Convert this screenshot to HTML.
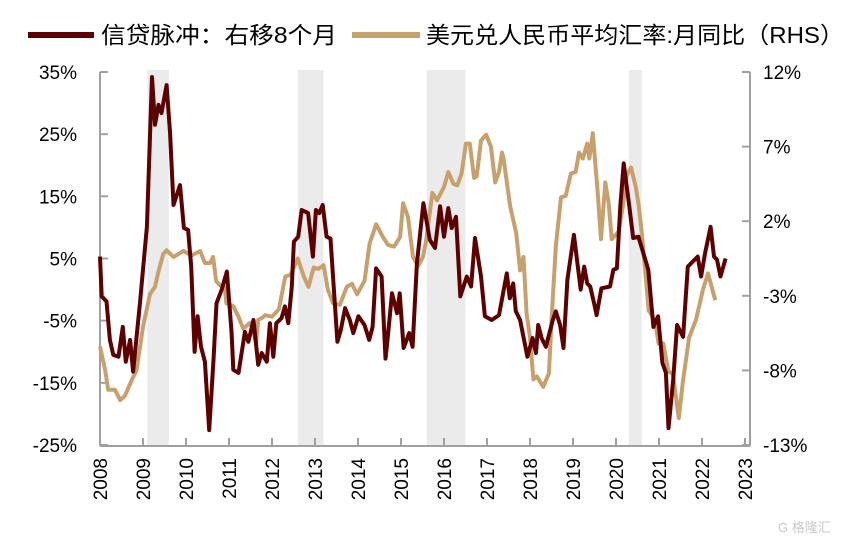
<!DOCTYPE html>
<html><head><meta charset="utf-8">
<style>
html,body{margin:0;padding:0;background:#fff;}
body{width:855px;height:543px;overflow:hidden;font-family:"Liberation Sans","Noto Sans CJK SC",sans-serif;}
svg text{font-family:"Liberation Sans","Noto Sans CJK SC",sans-serif;}
</style></head>
<body>
<svg id="chart" width="855" height="543" viewBox="0 0 855 543" xmlns="http://www.w3.org/2000/svg">
<g id="legend">
  <line x1="28" y1="35" x2="94" y2="35" stroke="#5C0000" stroke-width="6"/>
  <text x="101" y="43" font-size="23" textLength="236" lengthAdjust="spacingAndGlyphs" fill="#000">信贷脉冲：右移8个月</text>
  <line x1="352" y1="35" x2="420" y2="35" stroke="#C8A06E" stroke-width="6"/>
  <text x="426" y="43" font-size="23" textLength="418" lengthAdjust="spacingAndGlyphs" fill="#000">美元兑人民币平均汇率:月同比（RHS）</text>
</g>
<g id="bands"></g>
<g id="axes"></g>
<g id="series"></g>
<text x="778" y="532" font-size="13" fill="#c8c8c8">G 格隆汇</text>
</svg>
<script>
const xYears = [2008,2009,2010,2011,2012,2013,2014,2015,2016,2017,2018,2019,2020,2021,2022,2023];
const leftTicks = [35,25,15,5,-5,-15,-25];
const rightTicks = [12,7,2,-3,-8,-13];
const bandStarts = [2009.1,2012.6,2015.6,2020.3];
const bandEnds = [2009.6,2013.2,2016.5,2020.6];
const creditDates = [2008.0,2008.04,2008.15,2008.23,2008.31,2008.43,2008.53,2008.6,2008.7,2008.77,2008.93,2009.09,2009.21,2009.28,2009.36,2009.43,2009.55,2009.63,2009.71,2009.86,2009.95,2010.05,2010.12,2010.2,2010.27,2010.35,2010.44,2010.54,2010.64,2010.71,2010.83,2010.95,2011.06,2011.1,2011.22,2011.37,2011.45,2011.57,2011.68,2011.76,2011.88,2011.95,2012.03,2012.1,2012.22,2012.3,2012.38,2012.46,2012.51,2012.61,2012.69,2012.84,2012.95,2013.02,2013.1,2013.18,2013.27,2013.36,2013.44,2013.52,2013.6,2013.7,2013.81,2013.89,2014.01,2014.15,2014.26,2014.34,2014.42,2014.55,2014.64,2014.68,2014.79,2014.91,2014.97,2015.06,2015.19,2015.27,2015.37,2015.52,2015.67,2015.79,2015.91,2016.0,2016.1,2016.18,2016.28,2016.38,2016.53,2016.63,2016.72,2016.86,2016.95,2017.11,2017.28,2017.46,2017.53,2017.61,2017.67,2017.77,2017.94,2018.06,2018.14,2018.19,2018.27,2018.37,2018.53,2018.6,2018.7,2018.78,2018.87,2019.02,2019.18,2019.26,2019.33,2019.4,2019.49,2019.55,2019.66,2019.86,2019.94,2020.02,2020.1,2020.18,2020.31,2020.4,2020.52,2020.75,2020.87,2020.98,2021.08,2021.16,2021.22,2021.33,2021.42,2021.56,2021.67,2021.9,2021.98,2022.07,2022.2,2022.28,2022.35,2022.43,2022.55,2022.63];
const creditValues = [5.3,-1.1,-1.9,-8.1,-10.5,-10.8,-6.0,-11.6,-8.1,-13.2,-2.1,10.1,34.2,26.5,29.7,28.4,32.9,25.1,13.6,16.8,9.9,9.6,3.7,-10.0,-4.3,-9.2,-11.6,-22.6,-11.3,-2.2,0,2.9,-7.0,-12.9,-13.4,-6.8,-8.4,-4.9,-12.1,-10.2,-11.6,-5.4,-10.8,-5.4,-4.6,-2.7,-5.4,0.5,7.7,8.5,12.8,12.3,5.3,12.8,12.3,13.6,8.5,8.2,0,-8.4,-6.5,-3.0,-4.9,-7.0,-4.3,-5.7,-8.1,-6.0,3.4,2.1,-11.1,-8.6,-0.6,-3.8,-0.6,-9.4,-7.0,-9.2,4.2,13.9,8.0,6.7,13.4,8.5,13.1,9.9,11.7,-1.1,2.1,0.5,8.3,2.1,-4.3,-4.9,-4.1,2.6,-1.4,1.0,-3.5,-4.9,-10.8,-7.8,-10.2,-5.7,-7.8,-9.2,-4.9,-3.5,-5.7,-9.4,1.6,8.8,0,3.7,1.0,0.5,-2.2,-4.1,0.2,0.5,3.2,3.4,13.4,20.3,13.4,8.3,8.5,3.2,-6.0,-4.3,-11.8,-13.4,-22.3,-14.5,-5.7,-7.6,3.7,5.3,2.1,5.8,10.1,5.3,4.8,2.1,5.0];
const fxDates = [2008.0,2008.12,2008.19,2008.35,2008.47,2008.58,2008.73,2008.85,2009.0,2009.16,2009.28,2009.35,2009.47,2009.55,2009.71,2009.94,2010.13,2010.33,2010.44,2010.56,2010.63,2010.7,2010.79,2010.9,2010.94,2011.1,2011.22,2011.33,2011.49,2011.56,2011.63,2011.68,2011.76,2011.84,2012.0,2012.16,2012.31,2012.43,2012.6,2012.74,2012.85,2012.97,2013.08,2013.2,2013.3,2013.42,2013.58,2013.74,2013.86,2013.98,2014.15,2014.27,2014.42,2014.58,2014.7,2014.84,2014.98,2015.05,2015.16,2015.28,2015.4,2015.51,2015.58,2015.73,2015.84,2016.0,2016.1,2016.22,2016.31,2016.41,2016.51,2016.6,2016.7,2016.76,2016.86,2016.98,2017.09,2017.19,2017.28,2017.35,2017.38,2017.54,2017.68,2017.77,2017.85,2017.92,2018.0,2018.08,2018.16,2018.31,2018.44,2018.51,2018.6,2018.72,2018.83,2018.95,2019.06,2019.14,2019.23,2019.33,2019.38,2019.46,2019.57,2019.65,2019.75,2019.83,2019.9,2020.06,2020.16,2020.25,2020.35,2020.46,2020.53,2020.6,2020.76,2020.9,2020.99,2021.1,2021.22,2021.32,2021.46,2021.55,2021.7,2021.86,2022.02,2022.14,2022.31];
const fxValues = [-6.4,-8.0,-9.3,-9.3,-10.0,-9.7,-8.7,-8.0,-5.1,-2.9,-2.4,-1.5,-0.2,0.05,-0.4,0.0,-0.3,0,-0.8,-0.8,-0.4,-2.0,-2.3,-2.4,-3.5,-3.7,-4.4,-5.2,-4.8,-5.3,-6.2,-4.6,-4.5,-4.3,-4.4,-3.9,-1.7,-1.6,-0.5,-1.7,-2.4,-1.1,-1.2,-0.95,-2.6,-3.5,-3.6,-2.4,-2.2,-2.9,-2.0,0.5,1.8,0.95,0.4,0.3,0.95,3.2,2.3,-0.4,-1.0,-0.4,0.6,3.9,3.4,4.3,5.3,4.5,4.4,5.2,7.2,7.2,4.9,5.0,7.4,7.8,7.0,4.6,5.3,6.6,6.3,3.0,1.2,-1.3,-0.4,-4.2,-5.8,-8.6,-8.4,-9.1,-8.2,-4.2,0.3,3.6,3.7,5.2,5.3,6.6,6.2,7.2,6.2,7.9,4.1,0.8,4.6,3.2,0.8,1.3,3.0,5.1,5.6,4.3,3.0,1.2,-4.0,-4.6,-6.2,-6.2,-8.1,-8.2,-11.2,-8.9,-5.8,-4.6,-2.6,-1.5,-3.3];

const NS='http://www.w3.org/2000/svg';
const X0=100,X1=745,Y0=72,Y1=446;
function xScale(yr){return X0+(yr-2008)*(X1-X0)/15;}
function yLeft(v){return Y0+(35-v)*(445-Y0)/60;}
function yRight(v){return Y0+(12-v)*(445-Y0)/25;}
function mk(tag,attrs,parent){const e=document.createElementNS(NS,tag);for(const k in attrs)e.setAttribute(k,attrs[k]);parent.appendChild(e);return e;}

const bands=document.getElementById('bands');
for(let i=0;i<bandStarts.length;i++){
  const r=mk('rect',{x:xScale(bandStarts[i]),y:Y0-2,width:xScale(bandEnds[i])-xScale(bandStarts[i]),height:Y1-Y0+2,fill:'#EBEBEB'},bands);
  
  
}

const axes=document.getElementById('axes');
const axc='#A0A0A0';
let l=mk('line',{x1:X0,y1:Y0,x2:X0,y2:Y1,stroke:axc,'stroke-width':2},axes);


l=mk('line',{x1:750,y1:Y0,x2:750,y2:Y1,stroke:axc,'stroke-width':2},axes);


l=mk('line',{x1:X0,y1:Y1,x2:750,y2:Y1,stroke:axc,'stroke-width':2},axes);


leftTicks.forEach(v=>{
  const y=yLeft(v);
  mk('line',{x1:X0,y1:y,x2:X0+8,y2:y,stroke:axc,'stroke-width':2},axes);
  const t=mk('text',{x:77,y:y+7,'text-anchor':'end','font-size':19,fill:'#000'},axes);
  t.textContent=v+'%';
  
  
});
rightTicks.forEach(v=>{
  const y=yRight(v);
  mk('line',{x1:750,y1:y,x2:742,y2:y,stroke:axc,'stroke-width':2},axes);
  const t=mk('text',{x:763,y:y+7,'text-anchor':'start','font-size':19,fill:'#000'},axes);
  t.textContent=v+'%';
  
  
});
xYears.forEach(yr=>{
  const x=xScale(yr);
  if(yr>2008) mk('line',{x1:x,y1:Y1,x2:x,y2:Y1-8,stroke:axc,'stroke-width':2},axes);
  const t=mk('text',{x:0,y:0,'text-anchor':'end','font-size':19,fill:'#000',transform:'translate('+(x+7)+',458) rotate(-90)'},axes);
  t.textContent=yr;
  
  
});

const series=document.getElementById('series');
function path(dates,vals,ys){return dates.map((d,i)=>(i?'L':'M')+xScale(d).toFixed(1)+','+ys(vals[i]).toFixed(1)).join(' ');}
const fx=mk('path',{d:path(fxDates,fxValues,yRight),fill:'none',stroke:'#C8A06E','stroke-width':4,'stroke-linejoin':'round'},series);


const cr=mk('path',{d:path(creditDates,creditValues,yLeft),fill:'none',stroke:'#5C0000','stroke-width':4,'stroke-linejoin':'round'},series);


</script>
</body></html>
